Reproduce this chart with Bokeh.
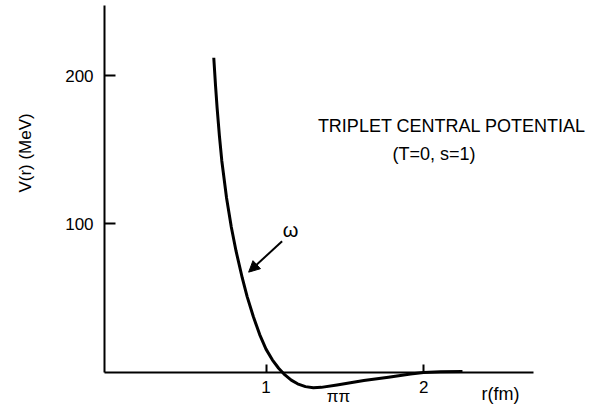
import math
from bokeh.plotting import figure
from bokeh.models import Range1d, FixedTicker, Label, Arrow, NormalHead
from bokeh.embed import file_html
from bokeh.resources import INLINE

# Data
r_fm = [0.669, 0.680, 0.690, 0.705, 0.720, 0.750, 0.780, 0.810, 0.850, 0.880,
        0.920, 0.960, 1.000, 1.040, 1.080, 1.120, 1.160, 1.200, 1.250, 1.300,
        1.350, 1.450, 1.620, 1.776, 1.916, 1.998, 2.106, 2.245]
v_mev = [212.0, 193.3, 178.4, 158.9, 142.4, 117.4, 97.9, 81.7, 63.3, 51.1,
         37.3, 25.3, 15.5, 8.3, 2.6, -1.9, -5.4, -7.9, -9.8, -10.5,
         -10.3, -8.7, -5.7, -3.4, -1.3, -0.3, 0.2, 0.4]
x_ticks = [1, 2]
y_ticks = [100, 200]

FONT = "Liberation Sans"

p = figure(width=601, height=406, output_backend="svg", toolbar_location=None,
           x_range=Range1d(-0.6825, 3.126), y_range=Range1d(-23.2, 250.6),
           min_border_left=0, min_border_right=0, min_border_top=0, min_border_bottom=0)
p.outline_line_color = None
p.grid.visible = False
p.background_fill_color = "white"
p.border_fill_color = "white"

# axes
p.xaxis.fixed_location = 0
p.yaxis.fixed_location = -0.023
p.xaxis.ticker = FixedTicker(ticks=x_ticks)
p.yaxis.ticker = FixedTicker(ticks=y_ticks)
p.xaxis.bounds = (-0.023, 2.695)
p.yaxis.bounds = (0, 247.2)
for ax in (p.xaxis, p.yaxis):
    ax.axis_line_width = 2
    ax.axis_line_color = "black"
    ax.major_tick_line_width = 2
    ax.major_tick_line_color = "black"
    ax.major_tick_out = 0
    ax.minor_tick_line_color = None
    ax.major_label_text_font = FONT
    ax.major_label_text_font_size = "17px"
    ax.major_label_text_color = "black"
p.xaxis.major_tick_in = 8
p.yaxis.major_tick_in = 11
p.xaxis.major_label_standoff = 9
p.yaxis.major_label_standoff = 11

p.line(r_fm, v_mev, line_width=3, line_color="black", line_join="round")

p.add_layout(Arrow(x_start=1.102, y_start=88.3, x_end=0.89, y_end=67.4,
                   line_width=2, line_color="black",
                   end=NormalHead(size=11, fill_color="black", line_color="black")))

def lab(x, y, t, size="18px", angle=0.0, baseline="middle"):
    p.add_layout(Label(x=x, y=y, text=t, text_font=FONT, text_font_size=size,
                       text_align="center", text_baseline=baseline, angle=angle,
                       text_color="black"))

lab(1.155, 95.5, "ω", "20px")
lab(1.459, -16.6, "ππ", "17px")
lab(2.178, 166.2, "TRIPLET CENTRAL POTENTIAL", "18px")
lab(2.08, 147.3, "(T=0,  s=1)", "18px")
lab(2.486, -15.1, "r(fm)", "18px")
lab(-0.521, 149.4, "V(r)  (MeV)", "17px", angle=math.pi / 2)

open("out.html", "w").write(file_html(p, INLINE))
